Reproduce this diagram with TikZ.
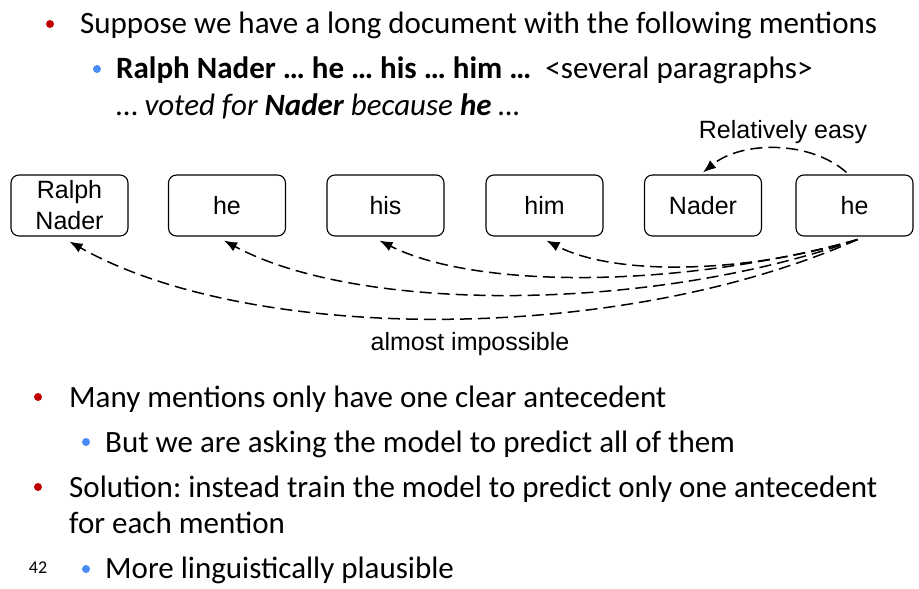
\documentclass[tikz,border=0pt]{standalone}
\usepackage{fontspec}
\setmainfont{Carlito}
\newfontfamily\diagfont{Liberation Sans}
\usetikzlibrary{arrows.meta}
\definecolor{bulletred}{HTML}{C00000}
\definecolor{bulletblue}{HTML}{4A8CF5}
\frenchspacing
\tikzset{
  mention/.style={draw, rounded corners=8pt, line width=1.1pt, minimum width=117pt,
    minimum height=61pt, align=center, font=\diagfont\fontsize{25}{31}\selectfont},
  link/.style={dashed, dash pattern=on 12pt off 6pt, line width=1.5pt, -{Latex[length=13pt,width=10pt]}},
  lvlone/.style={anchor=base west, inner sep=0pt, font=\fontsize{31}{37}\selectfont},
  lvltwo/.style={anchor=base west, inner sep=0pt, font=\fontsize{31}{37}\selectfont},
  caption/.style={anchor=base, inner sep=0pt, font=\diagfont\fontsize{25}{30}\selectfont}
}
\begin{document}
\begin{tikzpicture}[x=1pt, y=-1pt]
    \useasboundingbox[fill=white] (0,0) rectangle (919,589);
    \fill[bulletred] (50,24) circle (4);
    \node[lvlone] (suppose) at (80,33) {Suppose we have a long document with the following mentions};
    \fill[bulletblue] (97,69) circle (4);
    \node[lvltwo] (mentions) at (116,78) {\textbf{Ralph Nader … he … his … him …}\ \ <several paragraphs>};
    \node[lvltwo] (voted) at (116,115) {… \textit{voted for \textbf{Nader} because \textbf{he} …}};
    \node[mention] (ralph) at (69.5,205.5) {Ralph\\Nader};
    \node[mention] (heA) at (227,205.5) {he};
    \node[mention] (his) at (385.5,205.5) {his};
    \node[mention] (him) at (544.5,205.5) {him};
    \node[mention] (nader) at (703,205.5) {Nader};
    \node[mention] (heB) at (854.5,205.5) {he};
    \node[caption] (easy) at (783,138) {Relatively easy};
    \node[caption] (hard) at (470,350) {almost impossible};
    \draw[link] ([xshift=-8pt,yshift=2pt]heB.north) .. controls +(-36,-32) and +(39,-32) .. ([yshift=2pt]nader.north);
    \draw[link] ([xshift=3pt,yshift=-3pt]heB.south) .. controls +(-237,105) and +(182,103) .. ([yshift=-5pt]ralph.south);
    \draw[link] ([xshift=3pt,yshift=-3pt]heB.south) .. controls +(-207,73) and +(135,73) .. ([xshift=-3pt,yshift=-4pt]heA.south);
    \draw[link] ([xshift=3pt,yshift=-3pt]heB.south) .. controls +(-177,49) and +(97,49) .. ([xshift=-6pt,yshift=-4pt]his.south);
    \draw[link] ([xshift=3pt,yshift=-3pt]heB.south) .. controls +(-117,35) and +(67,35) .. ([xshift=2pt,yshift=-4pt]him.south);
    \fill[bulletred] (38,397) circle (4);
    \node[lvlone] (many) at (69,407) {Many mentions only have one clear antecedent};
    \fill[bulletblue] (86,442) circle (4);
    \node[lvltwo] (asking) at (105,452) {But we are asking the model to predict all of them};
    \fill[bulletred] (38,487) circle (4);
    \node[lvlone] (solution) at (69,497) {Solution: instead train the model to predict only one antecedent};
    \node[lvlone] (each) at (69,533) {for each mention};
    \node[anchor=base, inner sep=0pt, font=\fontsize{18}{21}\selectfont] (page) at (38,573) {42};
    \fill[bulletblue] (86,569) circle (4);
    \node[lvltwo] (plausible) at (105,578) {More linguistically plausible};
\end{tikzpicture}
\end{document}
